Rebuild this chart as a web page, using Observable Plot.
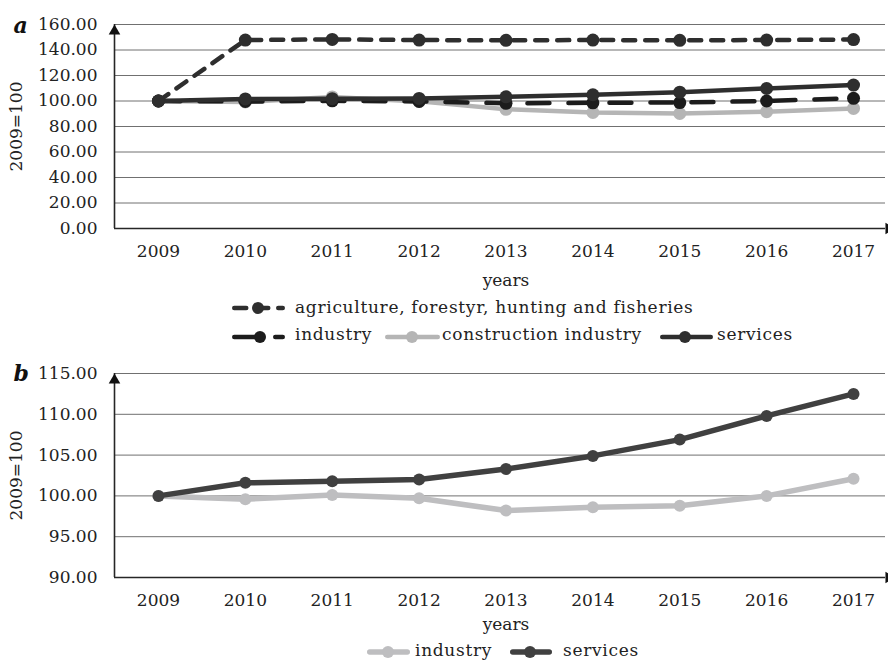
<!DOCTYPE html>
<html>
<head>
<meta charset="utf-8">
<script src="https://cdn.jsdelivr.net/npm/d3@7"></script>
<script src="https://cdn.jsdelivr.net/npm/@observablehq/plot@0.6"></script>
<style>
  html, body { margin: 0; padding: 0; background: #fff; }
  #page { position: relative; width: 888px; height: 660px; overflow: hidden;
          font-family: "DejaVu Serif", serif; color: #222; }
  #page > svg, #page > .lbl { position: absolute; }
  .lbl { font-size: 17px; line-height: 24px; letter-spacing: 0.7px; white-space: nowrap; }
</style>
</head>
<body>
<div id="page"></div>
<script>
// Indices of gross value added by sector, 2009 = 100
const years = [2009, 2010, 2011, 2012, 2013, 2014, 2015, 2016, 2017];
const agriculture  = [100, 147.8, 148.3, 147.8, 147.6, 147.8, 147.6, 147.8, 148.2];
const industry     = [100, 99.6, 100.1, 99.7, 98.2, 98.6, 98.8, 100.0, 102.1];
const construction = [100, 99.2, 103.2, 99.7, 93.5, 91.0, 90.2, 91.6, 94.2];
const services     = [100, 101.6, 101.8, 102.0, 103.3, 104.9, 106.9, 109.8, 112.5];

const ticksA = [0, 20, 40, 60, 80, 100, 120, 140, 160];
const ticksB = [90, 95, 100, 105, 110, 115];

const nameAgri = "agriculture, forestyr, hunting and fisheries";
const nameIndustry = "industry";
const nameConstruction = "construction industry";
const nameServices = "services";
const yTitle = "2009=100";
const xTitle = "years";

const page = document.getElementById("page");
const xDomain = [2009 - 0.506, 2017 + 0.368];

function chart({top, height, marginTop, marginBottom, yTicks, series, tag, tagDy, yearsDy}) {
  const yDomain = [yTicks[0], yTicks[yTicks.length - 1]];
  const marks = [
    Plot.gridY(yTicks, {stroke: "#707070", strokeOpacity: 1, strokeWidth: 1}),
    Plot.axisY(yTicks, {tickSize: 0, tickPadding: 17, tickFormat: d => d.toFixed(2), label: null}),
    Plot.axisX(years, {tickSize: 0, tickPadding: 16, tickFormat: d => String(d), label: null}),
    Plot.ruleY([yDomain[0]], {stroke: "#262626", strokeWidth: 1.6}),
    Plot.ruleX([xDomain[0]], {stroke: "#262626", strokeWidth: 1.6}),
    // arrowheads at the ends of both axes
    Plot.dot([{x: xDomain[0], y: yDomain[1]}], {x: "x", y: "y", symbol: "triangle", r: 4.3, fill: "#111", stroke: null, dy: 6.7}),
    Plot.dot([{x: xDomain[1], y: yDomain[0]}], {x: "x", y: "y", symbol: "triangle", r: 4.3, fill: "#111", stroke: null, rotate: 90, dx: 3.3}),
    Plot.text([yTitle], {frameAnchor: "left", textAnchor: "middle", rotate: -90, dx: -98, fontSize: 17}),
    Plot.text([xTitle], {x: [2013], frameAnchor: "bottom", dy: yearsDy, fontSize: 17}),
    Plot.text([tag], {frameAnchor: "top-left", dx: -101, dy: tagDy, textAnchor: "start",
                      fontSize: 22, fontWeight: "bold", fontStyle: "italic", fill: "#111"})
  ];
  for (const s of series) {
    const rows = years.map((year, i) => ({year, value: s.values[i]}));
    marks.push(Plot.line(rows, {x: "year", y: "value", stroke: s.color, strokeWidth: s.lw,
      strokeDasharray: s.dash, strokeLinecap: "round", strokeLinejoin: "round"}));
    marks.push(Plot.dot(rows, {x: "year", y: "value", r: s.r, fill: s.color, stroke: null}));
  }
  const svg = Plot.plot({
    width: 888, height, marginTop, marginBottom, marginLeft: 114, marginRight: 3,
    x: {type: "linear", domain: xDomain},
    y: {domain: yDomain},
    style: {fontFamily: "DejaVu Serif", fontSize: "17px", color: "#222", background: "transparent", overflow: "visible"},
    marks
  });
  svg.style.left = "0px";
  svg.style.top = top + "px";
  page.appendChild(svg);
}

// legend pieces: a short line sample with its marker, and a text label
function sample({left, cy, width, color, lw, dash, r, at}) {
  const svg = d3.select(page).append("svg")
    .style("left", left + "px").style("top", (cy - 10) + "px")
    .attr("width", width).attr("height", 20);
  svg.append("line").attr("x1", lw / 2).attr("x2", width - lw / 2).attr("y1", 10).attr("y2", 10)
    .attr("stroke", color).attr("stroke-width", lw).attr("stroke-linecap", "round")
    .attr("stroke-dasharray", dash || null);
  svg.append("circle").attr("cx", at).attr("cy", 10).attr("r", r).attr("fill", color);
}
function label(text, left, baseline) {
  d3.select(page).append("div").attr("class", "lbl")
    .style("left", left + "px").style("top", (baseline - 17.9) + "px").text(text);
}

const cAgri = "#2e2e2e", cInd = "#1c1c1c", cCon = "#b5b5b5", cSer = "#2e2e2e";
const dashAgri = "12,10", dashInd = "22,19";

chart({
  top: 0, height: 300, marginTop: 24, marginBottom: 72, yTicks: ticksA, tag: "a", tagDy: -7, yearsDy: 57,
  series: [
    {values: construction, color: cCon, lw: 4.5, r: 6.5},
    {values: industry, color: cInd, lw: 4.5, r: 6.5, dash: dashInd},
    {values: agriculture, color: cAgri, lw: 4.5, r: 6.5, dash: dashAgri},
    {values: services, color: cSer, lw: 4.5, r: 6.5}
  ]
});

chart({
  top: 350, height: 290, marginTop: 23, marginBottom: 63, yTicks: ticksB, tag: "b", tagDy: -8, yearsDy: 52,
  series: [
    {values: industry, color: "#bebec0", lw: 5.5, r: 6},
    {values: services, color: "#404040", lw: 5.5, r: 6}
  ]
});

// legend of chart a
sample({left: 232, cy: 308, width: 53, color: cAgri, lw: 4.5, dash: dashAgri, r: 6, at: 26});
label(nameAgri, 295, 313);
sample({left: 232, cy: 337, width: 53, color: cInd, lw: 4.5, dash: dashInd, r: 6, at: 28});
label(nameIndustry, 295, 340);
sample({left: 385, cy: 337, width: 55, color: cCon, lw: 4.5, r: 6, at: 27});
label(nameConstruction, 442, 340);
sample({left: 660, cy: 337, width: 53, color: cSer, lw: 4.5, r: 6, at: 25});
label(nameServices, 717, 340);

// legend of chart b
sample({left: 367, cy: 652, width: 43, color: "#bebec0", lw: 5.5, r: 6, at: 21});
label(nameIndustry, 415, 656);
sample({left: 510, cy: 652, width: 42, color: "#404040", lw: 5.5, r: 6, at: 20});
label(nameServices, 563, 656);
</script>
</body>
</html>
